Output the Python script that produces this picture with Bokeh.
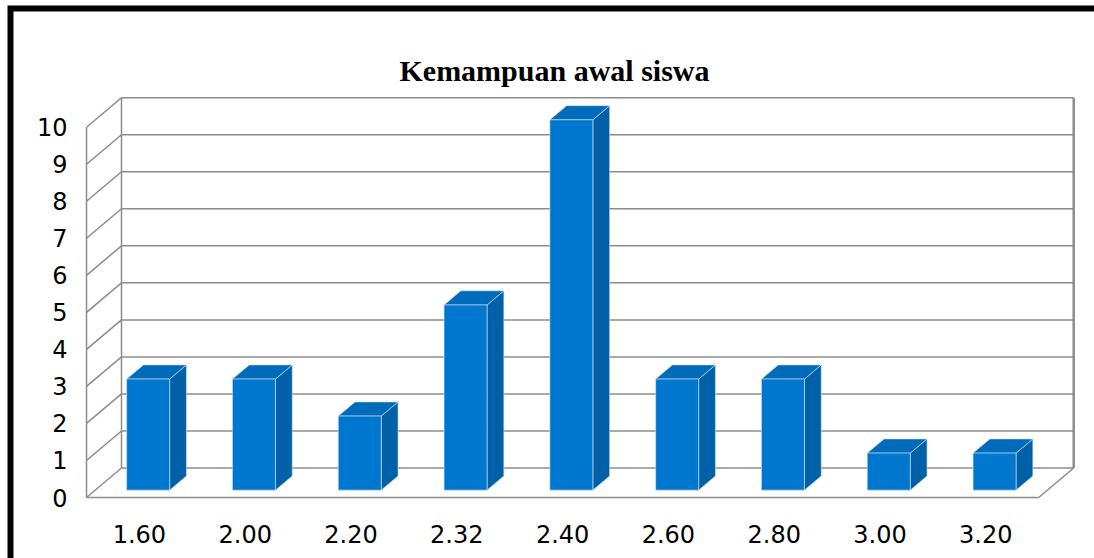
from bokeh.plotting import figure
from bokeh.models import Range1d
from bokeh.core.properties import value
from bokeh.embed import file_html
from bokeh.resources import INLINE

# --- data ---------------------------------------------------------------
categories = ["1.60", "2.00", "2.20", "2.32", "2.40", "2.60", "2.80", "3.00", "3.20"]
counts = [3, 3, 2, 5, 10, 3, 3, 1, 1]
y_ticks = [0, 1, 2, 3, 4, 5, 6, 7, 8, 9, 10]
title_text = "Kemampuan awal siswa"

# --- layout constants (pixels) ------------------------------------------
W, H = 1094, 558
SLOT_PX = 105.8      # width of one category slot on the front edge
UNIT_PX = 37.03      # height of one count unit
ORIGIN_X = 86        # front-left corner of the floor
ORIGIN_Y = 497
DEPTH_X = 35 / SLOT_PX    # oblique depth of the box, in data units
DEPTH_Y = 29.5 / UNIT_PX

BAR_HALF = 21.5 / SLOT_PX
BAR_FRONT = 0.25     # depth fraction where the bar's front face sits
BAR_DEPTH = 0.48     # depth fraction occupied by each bar

FRONT_COL = "#0077cf"
TOP_COL = "#006bba"
SIDE_COL = "#0061a8"
GRID_COL = "#8c8c8c"


def px_x(px):
    return (px - ORIGIN_X) / SLOT_PX


def px_y(py):
    return (ORIGIN_Y - py) / UNIT_PX


p = figure(width=W, height=H,
           x_range=Range1d(px_x(0), px_x(W)),
           y_range=Range1d(px_y(H), px_y(0)),
           x_axis_type=None, y_axis_type=None,
           output_backend="svg", toolbar_location=None, min_border=0)
p.grid.visible = False
p.outline_line_color = None
p.background_fill_color = "white"
p.border_fill_color = "white"

n = len(categories)
top = y_ticks[-1]

# --- box: back wall grid, side wall, floor ------------------------------
xs, ys = [], []
for v in y_ticks:
    # back wall gridline
    xs.append([DEPTH_X, n + DEPTH_X])
    ys.append([v + DEPTH_Y, v + DEPTH_Y])
    # side wall diagonal
    xs.append([0, DEPTH_X])
    ys.append([v, v + DEPTH_Y])
# back wall left edge, side wall front edge
xs.append([DEPTH_X, DEPTH_X]); ys.append([DEPTH_Y, top + DEPTH_Y])
xs.append([0, 0]); ys.append([0, top])
# floor front edge and right diagonal
xs.append([0, n]); ys.append([0, 0])
xs.append([n, n + DEPTH_X]); ys.append([0, DEPTH_Y])
p.multi_line(xs=xs, ys=ys, line_color=GRID_COL, line_width=1.5)
# back wall right edge
p.line(x=[n + DEPTH_X, n + DEPTH_X], y=[DEPTH_Y, top + DEPTH_Y],
       line_color=GRID_COL, line_width=2.5)

# --- 3D bars --------------------------------------------------------------
fx0, fx1, fy0, fy1 = [], [], [], []
top_x, top_y, side_x, side_y = [], [], [], []
bx, by = BAR_DEPTH * DEPTH_X, BAR_DEPTH * DEPTH_Y
for i, c in enumerate(counts):
    cx = i + 0.5 + BAR_FRONT * DEPTH_X
    x0, x1 = cx - BAR_HALF, cx + BAR_HALF
    y0 = BAR_FRONT * DEPTH_Y
    y1 = c + y0
    fx0.append(x0); fx1.append(x1); fy0.append(y0); fy1.append(y1)
    top_x.append([x0, x1, x1 + bx, x0 + bx])
    top_y.append([y1, y1, y1 + by, y1 + by])
    side_x.append([x1, x1 + bx, x1 + bx, x1])
    side_y.append([y0, y0 + by, y1 + by, y1])

p.patches(xs=side_x, ys=side_y, fill_color=SIDE_COL, line_color="#d6e2ec", line_width=0.6)
p.patches(xs=top_x, ys=top_y, fill_color=TOP_COL, line_color="#d6e2ec", line_width=0.6)
p.quad(left=fx0, right=fx1, bottom=fy0, top=fy1,
       fill_color=FRONT_COL, line_color="#d6e2ec", line_width=0.6)

# --- labels ---------------------------------------------------------------
p.text(x=[px_x(67)] * len(y_ticks), y=y_ticks, text=[str(t) for t in y_ticks],
       text_align="right", text_baseline="middle",
       text_font=value("DejaVu Sans"), text_font_size="24px", text_color="black")

p.text(x=[i + 0.5 for i in range(n)], y=[px_y(533)] * n, text=categories,
       text_align="center", text_baseline="middle",
       text_font=value("DejaVu Sans"), text_font_size="24px", text_color="black")

p.text(x=[px_x(554)], y=[px_y(70)], text=[title_text],
       text_align="center", text_baseline="alphabetic",
       text_font=value("Liberation Serif"), text_font_style="bold",
       text_font_size="30px", text_color="black")

# --- outer frame ------------------------------------------------------------
p.line(x=[px_x(10), px_x(10), px_x(1300)], y=[px_y(800), px_y(8), px_y(8)],
       line_color="black", line_width=6, line_join="miter")

open("out.html", "w").write(file_html(p, INLINE))
